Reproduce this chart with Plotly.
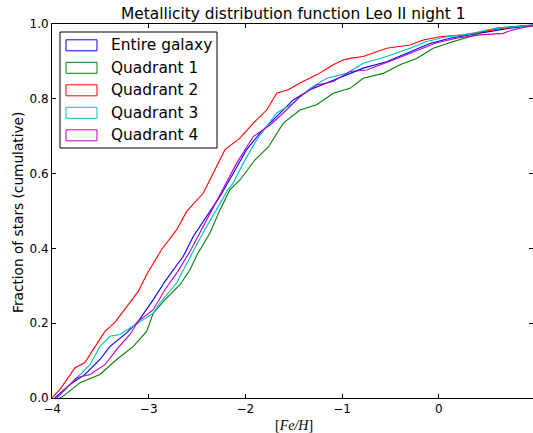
import plotly.graph_objects as go

# ---------------- data ----------------
series_names = ["Entire galaxy", "Quadrant 1", "Quadrant 2", "Quadrant 3", "Quadrant 4"]
series_colors = ["#0000ff", "#008000", "#ff0000", "#00bfbf", "#bf00bf"]

entire_x = [-3.97, -3.951, -3.814, -3.659, -3.504, -3.400, -3.228, -3.108, -2.952, -2.831, -2.694,
            -2.642, -2.539, -2.400, -2.263, -2.125, -1.987, -1.849, -1.676, -1.505, -1.332, -1.159,
            -0.952, -0.781, -0.539, -0.298, -0.091, 0.116, 0.323, 0.530, 0.736, 0.943, 1.0]
entire_y = [0.0, 0.005, 0.036, 0.063, 0.103, 0.138, 0.174, 0.205, 0.263, 0.312, 0.361,
            0.379, 0.432, 0.485, 0.539, 0.601, 0.664, 0.708, 0.752, 0.797, 0.824, 0.842,
            0.864, 0.882, 0.899, 0.926, 0.948, 0.962, 0.971, 0.980, 0.989, 0.995, 1.0]

q1_x = [-3.92, -3.883, -3.710, -3.504, -3.331, -3.159, -3.021, -2.952, -2.831, -2.676, -2.573,
        -2.495, -2.366, -2.263, -2.159, -2.056, -1.90, -1.76, -1.608, -1.435, -1.263, -1.091,
        -0.918, -0.781, -0.574, -0.401, -0.229, -0.057, 0.150, 0.323, 0.460, 0.599, 0.770, 0.974, 1.0]
q1_y = [0.0, 0.005, 0.041, 0.063, 0.103, 0.138, 0.178, 0.227, 0.263, 0.303, 0.343,
        0.385, 0.441, 0.503, 0.557, 0.583, 0.637, 0.672, 0.735, 0.770, 0.784, 0.815,
        0.828, 0.855, 0.868, 0.891, 0.908, 0.935, 0.953, 0.966, 0.980, 0.989, 0.993, 0.995, 1.0]

q2_x = [-4.0, -3.917, -3.762, -3.659, -3.573, -3.452, -3.349, -3.228, -3.108, -3.021, -2.866,
        -2.710, -2.607, -2.435, -2.332, -2.211, -2.056, -1.918, -1.780, -1.676, -1.556, -1.435,
        -1.263, -1.091, -0.988, -0.918, -0.781, -0.539, -0.298, -0.160, 0.012, 0.253, 0.460,
        0.667, 0.840, 0.974, 1.0]
q2_y = [0.0, 0.023, 0.081, 0.095, 0.130, 0.178, 0.202, 0.245, 0.285, 0.330, 0.397,
        0.450, 0.499, 0.548, 0.601, 0.664, 0.695, 0.735, 0.770, 0.815, 0.824, 0.842,
        0.864, 0.891, 0.904, 0.908, 0.913, 0.935, 0.944, 0.957, 0.966, 0.971, 0.980,
        0.989, 0.995, 0.997, 1.0]

q3_x = [-3.95, -3.935, -3.762, -3.607, -3.504, -3.400, -3.297, -3.193, -3.090, -2.952, -2.883,
        -2.710, -2.53, -2.42, -2.30, -2.18, -2.125, -2.022, -1.883, -1.676, -1.505, -1.332,
        -1.159, -0.952, -0.781, -0.539, -0.298, -0.125, 0.082, 0.323, 0.495, 0.702, 0.909, 1.0]
q3_y = [0.0, 0.005, 0.049, 0.089, 0.138, 0.165, 0.170, 0.187, 0.205, 0.227, 0.254,
        0.308, 0.397, 0.450, 0.503, 0.557, 0.575, 0.628, 0.690, 0.762, 0.788, 0.828,
        0.855, 0.868, 0.895, 0.913, 0.935, 0.953, 0.966, 0.973, 0.984, 0.991, 0.995, 1.0]

q4_x = [-3.95, -3.917, -3.745, -3.607, -3.452, -3.331, -3.193, -3.108, -2.952, -2.831, -2.710,
        -2.573, -2.435, -2.314, -2.211, -2.090, -1.918, -1.745, -1.608, -1.435, -1.263, -1.091,
        -0.918, -0.746, -0.471, -0.264, -0.022, 0.185, 0.426, 0.667, 0.736, 0.874, 0.974, 1.0]
q4_y = [0.0, 0.009, 0.054, 0.063, 0.089, 0.130, 0.170, 0.205, 0.236, 0.290, 0.334,
        0.392, 0.459, 0.517, 0.566, 0.628, 0.699, 0.730, 0.762, 0.806, 0.837, 0.846,
        0.873, 0.877, 0.904, 0.926, 0.950, 0.962, 0.971, 0.975, 0.982, 0.991, 0.995, 1.0]

x_tick_vals = [-4, -3, -2, -1, 0]
y_tick_vals = [0.0, 0.2, 0.4, 0.6, 0.8, 1.0]

title_text = "Metallicity distribution function Leo II night 1"
xlabel_text = "[<i>Fe/H</i>]"
ylabel_text = "Fraction of stars (cumulative)"

# ---------------- figure ----------------
W, H = 533, 433
ML, MR, MT, MB = 52, 0, 24, 35
PW, PH = W - ML - MR, H - MT - MB


def px_x(p):
    return (p - ML) / PW


def px_y(p):
    return (H - MB - p) / PH


all_x = [entire_x, q1_x, q2_x, q3_x, q4_x]
all_y = [entire_y, q1_y, q2_y, q3_y, q4_y]

fig = go.Figure()
for name, col, xs, ys in zip(series_names, series_colors, all_x, all_y):
    fig.add_trace(go.Scatter(x=xs, y=ys, mode="lines", name=name,
                             line=dict(color=col, width=1.1), showlegend=False,
                             cliponaxis=True))

axis_common = dict(showline=True, linecolor="black", linewidth=1, mirror="ticks",
                   ticks="inside", ticklen=4, tickwidth=1, tickcolor="black",
                   showgrid=False, zeroline=False,
                   tickfont=dict(family="DejaVu Sans", size=12, color="black"))

fig.update_layout(
    width=W, height=H,
    margin=dict(l=ML, r=MR, t=MT, b=MB, pad=0),
    paper_bgcolor="white", plot_bgcolor="white",
    xaxis=dict(range=[-4, 0.975], tickvals=x_tick_vals, **axis_common),
    yaxis=dict(range=[0, 1], tickvals=y_tick_vals, tickformat=".1f", **axis_common),
    showlegend=False,
)

annotations = [
    dict(text=title_text, xref="paper", yref="paper", x=px_x(293.5), y=px_y(13.5),
         xanchor="center", yanchor="middle", showarrow=False,
         font=dict(family="DejaVu Sans", size=15.4, color="black")),
    dict(text=ylabel_text, xref="paper", yref="paper", x=px_x(18), y=px_y(213),
         xanchor="center", yanchor="middle", showarrow=False, textangle=-90,
         font=dict(family="DejaVu Sans", size=13.7, color="black")),
    dict(text=xlabel_text, xref="paper", yref="paper", x=px_x(293.5), y=px_y(425),
         xanchor="center", yanchor="middle", showarrow=False,
         font=dict(family="Liberation Serif", size=14, color="black")),
]

shapes = [
    dict(type="rect", xref="paper", yref="paper", x0=px_x(60), x1=px_x(217),
         y0=px_y(148), y1=px_y(32), line=dict(color="black", width=1), fillcolor="white",
         layer="above"),
]

row0, row_step = 45.3, 22.5
for i, (name, col) in enumerate(zip(series_names, series_colors)):
    cy = row0 + i * row_step
    shapes.append(dict(type="rect", xref="paper", yref="paper", x0=px_x(66), x1=px_x(97),
                       y0=px_y(cy + 5.5), y1=px_y(cy - 5.5),
                       line=dict(color=col, width=1), fillcolor="rgba(0,0,0,0)", layer="above"))
    annotations.append(dict(text=name, xref="paper", yref="paper", x=px_x(109), y=px_y(cy),
                            xanchor="left", yanchor="middle", showarrow=False,
                            font=dict(family="DejaVu Sans", size=15.4, color="black")))

fig.update_layout(annotations=annotations, shapes=shapes)

fig.write_html("out.html",
               config={"displayModeBar": False},
               post_script="document.body.style.margin='0';"
                           "document.body.style.overflow='hidden';")
